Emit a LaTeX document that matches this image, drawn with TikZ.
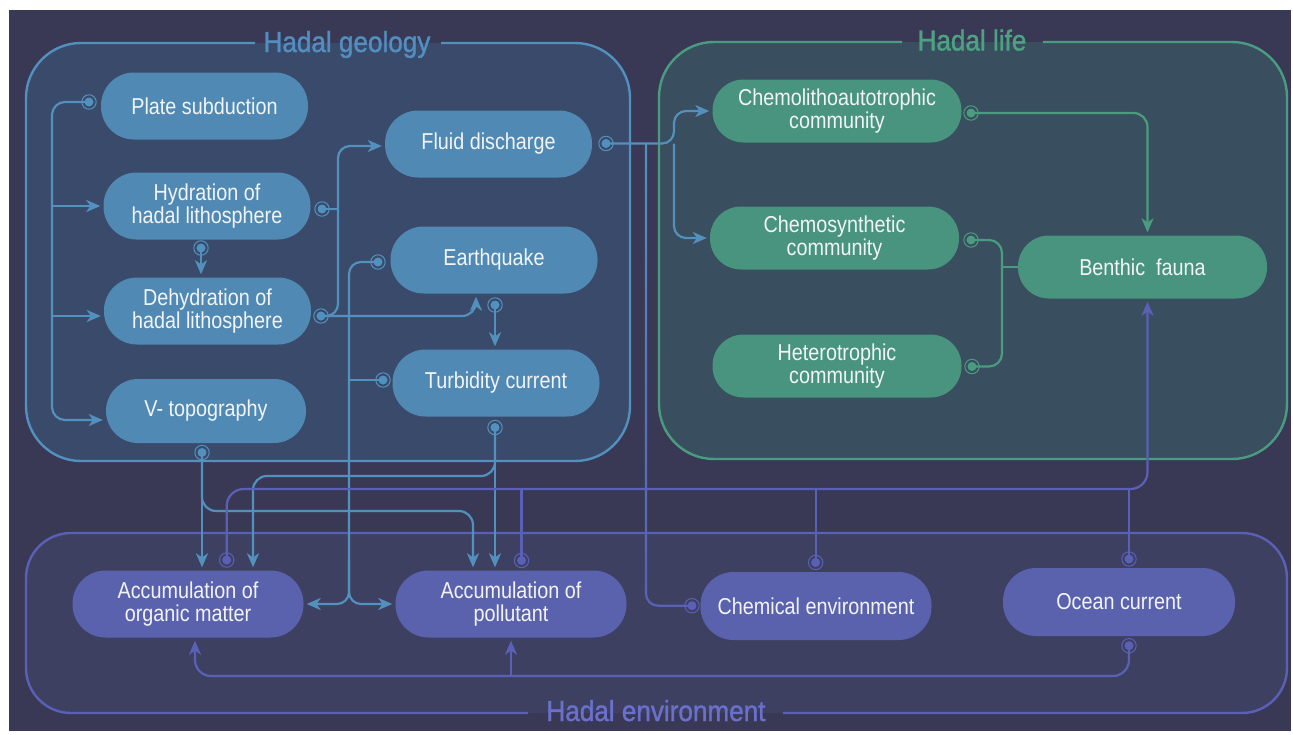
\documentclass[tikz,border=0pt]{standalone}
\usepackage{fontspec}
\setmainfont{Liberation Sans}[FakeStretch=0.86]
\newfontfamily\ttlfont{Liberation Sans}[FakeStretch=0.9, FakeBold=1.2]
\usetikzlibrary{arrows.meta}
\definecolor{bgc}{RGB}{57,57,86}
\definecolor{geofill}{RGB}{58,74,106}
\definecolor{lifefill}{RGB}{57,78,94}
\definecolor{envfill}{RGB}{62,64,98}
\definecolor{geoc}{RGB}{80,138,180}
\definecolor{geol}{RGB}{82,144,190}
\definecolor{geot}{RGB}{82,142,192}
\definecolor{lifec}{RGB}{72,148,126}
\definecolor{lifel}{RGB}{74,156,128}
\definecolor{lifet}{RGB}{78,162,132}
\definecolor{envc}{RGB}{90,98,174}
\definecolor{envl}{RGB}{90,96,182}
\definecolor{envt}{RGB}{106,112,204}
\definecolor{txt}{RGB}{242,244,248}
\tikzset{
  pill/.style={rectangle, text=txt, align=center, inner sep=0pt,
    font=\fontsize{23}{23.5}\selectfont},
  gnode/.style={pill, fill=geoc, minimum width=207pt, minimum height=67pt, rounded corners=33pt},
  lnode/.style={pill, fill=lifec, minimum width=249pt, minimum height=63pt, rounded corners=31pt},
  enode/.style={pill, fill=envc, minimum width=231pt, minimum height=67pt, rounded corners=33pt},
  ttl/.style={font=\ttlfont\fontsize{29}{30}\selectfont, anchor=base, inner sep=0pt},
  gl/.style={draw=geol, line width=2.2pt},
  ll/.style={draw=lifel, line width=2.2pt},
  el/.style={draw=envl, line width=2.2pt},
  tip/.style={-{Stealth[length=14pt,width=12pt,inset=4pt]}, shorten >=3pt},
  pics/mk/.style={code={\fill[#1] (0,0) circle (4.5pt); \draw[#1, line width=1pt] (0,0) circle (7.2pt);}}
}
\begin{document}
\begin{tikzpicture}[x=1pt,y=-1pt]
\useasboundingbox (0,0) rectangle (1293,734);
\fill[white] (0,0) rectangle (1293,734);
\fill[bgc] (9,10) rectangle (1291,731);
% boxes
\fill[geofill, rounded corners=55pt] (26,43) rectangle (630,461);
\draw[geol, line width=2.4pt, rounded corners=55pt] (441,43) -- (630,43) -- (630,461) -- (26,461) -- (26,43) -- (255,43);
\fill[lifefill, rounded corners=55pt] (659,42) rectangle (1287,459);
\draw[lifel, line width=2.4pt, rounded corners=55pt] (1043,42) -- (1287,42) -- (1287,459) -- (659,459) -- (659,42) -- (902,42);
\fill[envfill, rounded corners=45pt] (26,533) rectangle (1287,713);
\draw[envl, line width=2.4pt, rounded corners=45pt] (783,713) -- (1287,713) -- (1287,533) -- (26,533) -- (26,713) -- (528,713);
\node[ttl, text=geot] (tgeo) at (347,52) {Hadal geology};
\node[ttl, text=lifet] (tlife) at (972,50.5) {Hadal life};
\node[ttl, text=envt] (tenv) at (656,721) {Hadal environment};
% nodes
\node[gnode] (plate) at (204.5,106) {Plate subduction};
\node[gnode] (hyd) at (207,206) {Hydration of\\hadal lithosphere};
\node[gnode] (deh) at (207.5,311) {Dehydration of\\hadal lithosphere};
\node[gnode, minimum width=200pt, minimum height=64pt, rounded corners=32pt] (vtop) at (206,411) {V- topography};
\node[gnode] (fluid) at (488.5,144) {Fluid discharge};
\node[gnode] (quake) at (494,260) {Earthquake};
\node[gnode] (turb) at (496,383) {Turbidity current};
\node[lnode] (chemo) at (837,111) {Chemolithoautotrophic\\community};
\node[lnode] (chsyn) at (834.5,238) {Chemosynthetic\\community};
\node[lnode] (hetero) at (837,366) {Heterotrophic\\community};
\node[lnode] (benthic) at (1142.5,267) {Benthic~~fauna};
\node[enode] (accorg) at (188,604) {Accumulation of\\organic matter};
\node[enode] (accpol) at (511,604) {Accumulation of\\pollutant};
\node[enode, minimum height=68pt] (chemenv) at (816,606) {Chemical environment};
\node[enode, minimum width=232pt, minimum height=68pt] (ocean) at (1119,602) {Ocean current};
% dot coordinates
\coordinate (dPlate) at (89,102);
\coordinate (dHyd) at (322,209);
\coordinate (dHydB) at (201,248);
\coordinate (dDeh) at (321,316);
\coordinate (dFluid) at (606,143.5);
\coordinate (dQuakeL) at (378,262);
\coordinate (dQuakeB) at (495,305);
\coordinate (dTurbL) at (383,380);
\coordinate (dTurbB) at (495,427.5);
\coordinate (dVtop) at (202,452.5);
\coordinate (dChemo) at (971,113);
\coordinate (dChsyn) at (971,240);
\coordinate (dHetero) at (972,366.5);
\coordinate (dOrg) at (226.7,560);
\coordinate (dPol) at (521.5,560.5);
\coordinate (dChemT) at (815.6,562.5);
\coordinate (dChemL) at (692,605.7);
\coordinate (dOceanT) at (1129,559);
\coordinate (dOceanB) at (1129,645.7);
\coordinate (trunk) at (52,0);
\coordinate (vx1) at (338,0);
\coordinate (vx2) at (349,0);
\coordinate (vx3) at (674,0);
\coordinate (vx4) at (1002,0);
\coordinate (yh) at (0,489);
\coordinate (yb) at (0,676);
% geology connectors
\draw[gl, tip, rounded corners=13pt] (dPlate) -- (trunk |- dPlate) -- (52,420) -- ([yshift=-9pt]vtop.west);
\draw[gl, tip] (trunk |- hyd.west) -- (hyd.west);
\draw[gl, tip] (52,316) -- ([yshift=-5pt]deh.west);
\draw[gl, tip] (dHydB) -- (dHydB |- deh.north);
\draw[gl] (dHyd) -- (vx1 |- dHyd);
\draw[gl, tip, rounded corners=12pt] (dDeh) -- (vx1 |- dDeh) -- (338,146) -- ([yshift=-2pt]fluid.west);
\draw[gl, tip, rounded corners=14pt] (dDeh) -- (476,316) -- ([xshift=-18pt]quake.south);
\draw[gl, tip] (dQuakeB) -- (dQuakeB |- turb.north);
\draw[gl, tip, rounded corners=12pt] (dQuakeL) -- (vx2 |- dQuakeL) -- (vx2 |- accorg.east) -- (accorg.east);
\draw[gl, tip, rounded corners=12pt] (349,560) -- (vx2 |- accpol.west) -- (accpol.west);
\draw[gl] (dTurbL) -- (vx2 |- dTurbL);
\draw[gl, tip] (dVtop) -- (dVtop |- accorg.north);
\draw[gl, tip, rounded corners=14pt] (dVtop) -- (202,511) -- (473,511) -- ([xshift=-38pt]accpol.north);
\draw[gl, tip] (dTurbB) -- (dTurbB |- accpol.north);
\draw[gl, tip, rounded corners=14pt] (dTurbB) -- (495,476) -- (253,476) -- ([xshift=65pt]accorg.north);
% fluid discharge to communities
\draw[gl, tip, rounded corners=12pt] (dFluid) -- (vx3 |- dFluid) -- (vx3 |- chemo.west) -- (chemo.west);
\draw[gl, tip, rounded corners=12pt] (vx3 |- dFluid) -- (vx3 |- chsyn.west) -- (chsyn.west);
% chemical environment up to the fluid line
\shade[top color=geol, bottom color=envl] (644.9,143.5) rectangle (647.1,592);
\draw[el, rounded corners=12pt] (646,585) -- (646,605.7) -- (dChemL);
% life connectors
\draw[ll, tip, rounded corners=14pt] (dChemo) -- (1147.5,113) -- ([xshift=5pt]benthic.north);
\draw[ll, rounded corners=13pt] (dChsyn) -- (vx4 |- dChsyn) -- (vx4 |- dHetero) -- (dHetero);
\draw[ll] (vx4 |- benthic.west) -- (benthic.west);
% environment connectors
\draw[el, tip, rounded corners=17pt] (dOrg) -- (dOrg |- yh) -- (1147.5,489) -- ([xshift=5pt]benthic.south);
\draw[el] (dPol) -- (dPol |- yh);
\draw[el] (dChemT) -- (dChemT |- yh);
\draw[el] (dOceanT) -- (dOceanT |- yh);
\draw[el, tip, rounded corners=16pt] (dOceanB) -- (dOceanB |- yb) -- (195,676) -- ([xshift=7pt]accorg.south);
\draw[el, tip] (accpol.south |- yb) -- (accpol.south);
% dots
\foreach \p in {dPlate,dHyd,dHydB,dDeh,dFluid,dQuakeL,dQuakeB,dTurbL,dTurbB,dVtop}{\pic at (\p) {mk=geol};}
\foreach \p in {dChemo,dChsyn,dHetero}{\pic at (\p) {mk=lifel};}
\foreach \p in {dOrg,dPol,dChemT,dChemL,dOceanT,dOceanB}{\pic at (\p) {mk=envl};}
\end{tikzpicture}
\end{document}
